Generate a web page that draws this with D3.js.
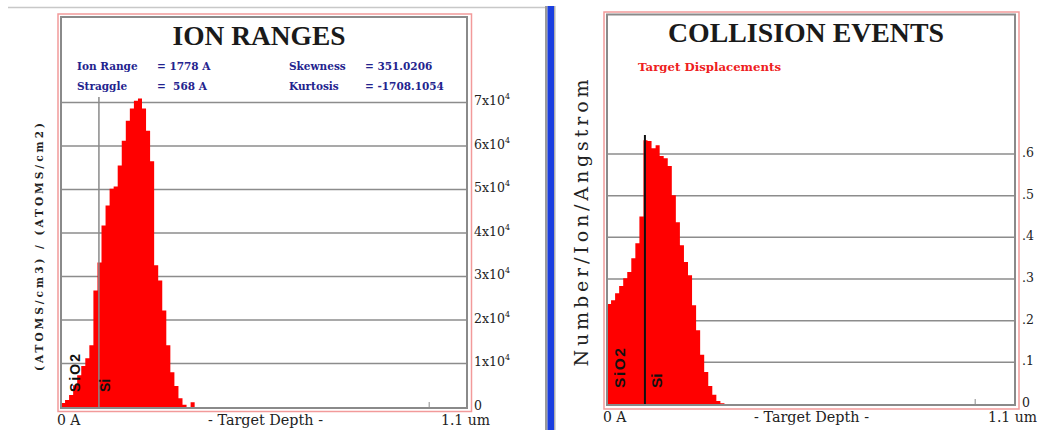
<!DOCTYPE html>
<html>
<head>
<meta charset="utf-8">
<script src="https://cdn.jsdelivr.net/npm/d3@7"></script>
<style>
  body { margin: 0; background: #fff; }
  svg { display: block; }
</style>
</head>
<body>
<svg id="chart" width="1041" height="430"></svg>
<script>
// depth bins are 110 A wide, 100 bins across 0 .. 1.1 um
const binWidth = 110;
const depthMax = 11000;
const layerDepth = 1030; // SiO2 / Si boundary, A

// ion ranges, atoms/cm3 per atoms/cm2, one value per bin from 0 A
const ionCounts = [
  900, 1600, 2750, 5000, 7300, 9400, 11200, 14200, 26800, 33200,
  41700, 46300, 50200, 50700, 55500, 61200, 65800, 68600, 70400, 70900,
  68600, 63500, 56500, 32600, 29100, 22200, 14200, 8000, 4800, 2000,
  500, 0, 1100, 0
];
const ionTicks = [0, 10000, 20000, 30000, 40000, 50000, 60000, 70000];
const ionTickLabels = ['0', '1x10', '2x10', '3x10', '4x10', '5x10', '6x10', '7x10'];

// target displacements, number/ion/angstrom
const dispCounts = [
  0.240, 0.249, 0.266, 0.283, 0.302, 0.317, 0.350, 0.386, 0.450, 0.633,
  0.631, 0.614, 0.621, 0.595, 0.590, 0.571, 0.501, 0.436, 0.381, 0.341,
  0.309, 0.237, 0.177, 0.118, 0.077, 0.043, 0.022, 0.007, 0.002, 0
];
const dispTicks = [0, 0.1, 0.2, 0.3, 0.4, 0.5, 0.6];
const dispTickLabels = ['0', '.1', '.2', '.3', '.4', '.5', '.6'];

const ionStats = [
  ['Ion Range', '= 1778 A'],
  ['Straggle', '=  568 A'],
  ['Skewness', '= 351.0206'],
  ['Kurtosis', '= -1708.1054']
];

const serif = '"DejaVu Serif", "Liberation Serif", serif';
const titleFont = '"Liberation Serif", "DejaVu Serif", serif';

const svg = d3.select('#chart');

// page furniture: top rule and the blue splitter between the two frames
svg.append('line')
  .attr('x1', 8).attr('x2', 545).attr('y1', 7.5).attr('y2', 7.5)
  .attr('stroke', '#c8c8c8').attr('stroke-width', 1.5);
svg.append('rect').attr('x', 545).attr('y', 6).attr('width', 2.5).attr('height', 424).attr('fill', '#9a9a9a');
svg.append('rect').attr('x', 547.5).attr('y', 6).attr('width', 6.5).attr('height', 424).attr('fill', '#1a3ee0');
svg.append('rect').attr('x', 554).attr('y', 6).attr('width', 1.5).attr('height', 424).attr('fill', '#b0b0b0');

function drawPanel(p) {
  const g = svg.append('g');

  const x = d3.scaleLinear().domain([0, depthMax]).range([p.x0, p.x1]);
  const y = d3.scaleLinear().domain(p.yDomain).range([p.y0, p.y1]);

  // frames
  g.append('rect')
    .attr('x', p.red[0]).attr('y', p.red[1])
    .attr('width', p.red[2] - p.red[0]).attr('height', p.red[3] - p.red[1])
    .attr('fill', 'none').attr('stroke', '#f29a9a').attr('stroke-width', 1.5);

  // grid lines
  g.append('g')
    .selectAll('line')
    .data(p.ticks.slice(1))
    .join('line')
    .attr('x1', p.x0).attr('x2', p.gray[2])
    .attr('y1', d => y(d)).attr('y2', d => y(d))
    .attr('stroke', '#8c8c8c').attr('stroke-width', 1.5);

  // histogram
  const pts = p.values.map((v, i) => [i * binWidth, v]);
  pts.push([p.values.length * binWidth, 0]);
  const area = d3.area()
    .x(d => x(d[0]))
    .y0(y(0))
    .y1(d => y(d[1]))
    .curve(d3.curveStepAfter);
  g.append('path')
    .datum(pts)
    .attr('d', area)
    .attr('fill', '#ff0000');

  // layer boundary
  g.append('line')
    .attr('x1', x(layerDepth)).attr('x2', x(layerDepth))
    .attr('y1', p.layerTop).attr('y2', y(0))
    .attr('stroke', p.layerColor).attr('stroke-width', p.layerWidth);

  g.append('rect')
    .attr('x', p.gray[0]).attr('y', p.gray[1])
    .attr('width', p.gray[2] - p.gray[0]).attr('height', p.gray[3] - p.gray[1])
    .attr('fill', 'none').attr('stroke', '#8a8a8a').attr('stroke-width', 2);

  // 1 um tick on the depth axis
  g.append('line')
    .attr('x1', x(10000)).attr('x2', x(10000))
    .attr('y1', y(0) - 5).attr('y2', y(0))
    .attr('stroke', '#8a8a8a').attr('stroke-width', 1);

  // right side value labels
  const tl = g.append('g')
    .selectAll('text')
    .data(p.ticks)
    .join('text')
    .attr('x', p.tickX)
    .attr('y', d => y(d) + p.tickDy)
    .attr('font-family', serif)
    .attr('font-size', 12.5)
    .attr('fill', '#222')
    .text((d, i) => p.tickLabels[i]);
  if (p.superscript) {
    tl.filter(d => d > 0)
      .append('tspan')
      .attr('dy', -6)
      .attr('font-size', 8)
      .text('4');
  }

  // title
  g.append('text')
    .attr('x', p.titleX).attr('y', p.titleY)
    .attr('text-anchor', 'middle')
    .attr('font-family', titleFont)
    .attr('font-weight', 'bold')
    .attr('font-size', 27)
    .attr('fill', '#1a1a1a')
    .attr('textLength', p.titleLen)
    .attr('lengthAdjust', 'spacingAndGlyphs')
    .text(p.title);

  // depth axis labels
  const bottom = g.append('g')
    .attr('font-family', serif)
    .attr('font-size', 14)
    .attr('fill', '#222');
  bottom.append('text').attr('x', p.x0 - 4).attr('y', p.bottomY).text('0 A');
  bottom.append('text').attr('x', (p.x0 + p.x1) / 2 + 2).attr('y', p.bottomY)
    .attr('text-anchor', 'middle')
    .attr('textLength', 115).attr('lengthAdjust', 'spacingAndGlyphs')
    .text('- Target Depth -');
  bottom.append('text').attr('x', p.umX).attr('y', p.bottomY)
    .attr('text-anchor', 'end').text('1.1 um');

  // layer names
  const layers = g.append('g')
    .attr('font-family', '"Liberation Sans", Arial, sans-serif')
    .attr('font-weight', 'bold')
    .attr('font-size', p.layerFont)
    .attr('fill', '#111');
  layers.append('text')
    .attr('transform', `translate(${p.sio2[0]},${p.sio2[1]}) rotate(-90)`)
    .attr('textLength', p.sio2[2]).attr('lengthAdjust', 'spacing')
    .text('SiO2');
  layers.append('text')
    .attr('transform', `translate(${p.si[0]},${p.si[1]}) rotate(-90)`)
    .text('Si');

  // vertical axis title
  g.append('text')
    .attr('transform', `translate(${p.yLabel[0]},${p.yLabel[1]}) rotate(-90)`)
    .attr('text-anchor', 'middle')
    .attr('font-family', serif)
    .attr('font-weight', p.yLabelWeight)
    .attr('font-size', p.yLabelFont)
    .attr('fill', '#222')
    .attr('textLength', p.yLabel[2])
    .attr('lengthAdjust', 'spacing')
    .text(p.yText);

  return {g, x, y};
}

const left = drawPanel({
  x0: 61, x1: 466, y0: 407, y1: 102.5,
  yDomain: [0, 70000],
  red: [58, 14, 471.5, 411.5],
  gray: [61, 17, 467, 408],
  values: ionCounts,
  ticks: ionTicks, tickLabels: ionTickLabels, superscript: true,
  tickX: 474, tickDy: 2.5,
  layerTop: 97, layerColor: '#8a8a8a', layerWidth: 1.5,
  title: 'ION RANGES', titleX: 259, titleY: 45, titleLen: 173,
  bottomY: 425, umX: 490,
  layerFont: 14, sio2: [80, 392, 38], si: [110, 392],
  yLabel: [43, 247, 248], yText: '(ATOMS/cm3) / (ATOMS/cm2)',
  yLabelWeight: 'bold', yLabelFont: 10.5
});

const right = drawPanel({
  x0: 607, x1: 1012, y0: 404, y1: 154,
  yDomain: [0, 0.6],
  red: [604, 12, 1019, 409],
  gray: [607, 14.5, 1015, 405],
  values: dispCounts,
  ticks: dispTicks, tickLabels: dispTickLabels, superscript: false,
  tickX: 1022, tickDy: 3,
  layerTop: 135, layerColor: '#111', layerWidth: 2,
  title: 'COLLISION EVENTS', titleX: 806, titleY: 42, titleLen: 276,
  bottomY: 422, umX: 1037,
  layerFont: 15.5, sio2: [625, 388, 40], si: [662, 388],
  yLabel: [588, 223, 287], yText: 'Number/Ion/Angstrom',
  yLabelWeight: 'normal', yLabelFont: 19
});

// ion range statistics
const statCols = [77, 157, 289, 365];
const statRows = [70, 90];
const stats = left.g.append('g')
  .attr('font-family', serif)
  .attr('font-weight', 'bold')
  .attr('font-size', 10.5)
  .attr('fill', '#23238e');
ionStats.forEach((s, i) => {
  const col = Math.floor(i / 2) * 2;
  const row = i % 2;
  stats.append('text').attr('x', statCols[col]).attr('y', statRows[row]).text(s[0]);
  stats.append('text').attr('x', statCols[col + 1]).attr('y', statRows[row]).attr('xml:space', 'preserve').text(s[1]);
});

right.g.append('text')
  .attr('x', 638).attr('y', 71)
  .attr('font-family', serif)
  .attr('font-weight', 'bold')
  .attr('font-size', 11.5)
  .attr('fill', '#ee2020')
  .attr('textLength', 143)
  .attr('lengthAdjust', 'spacingAndGlyphs')
  .text('Target Displacements');
</script>
</body>
</html>
